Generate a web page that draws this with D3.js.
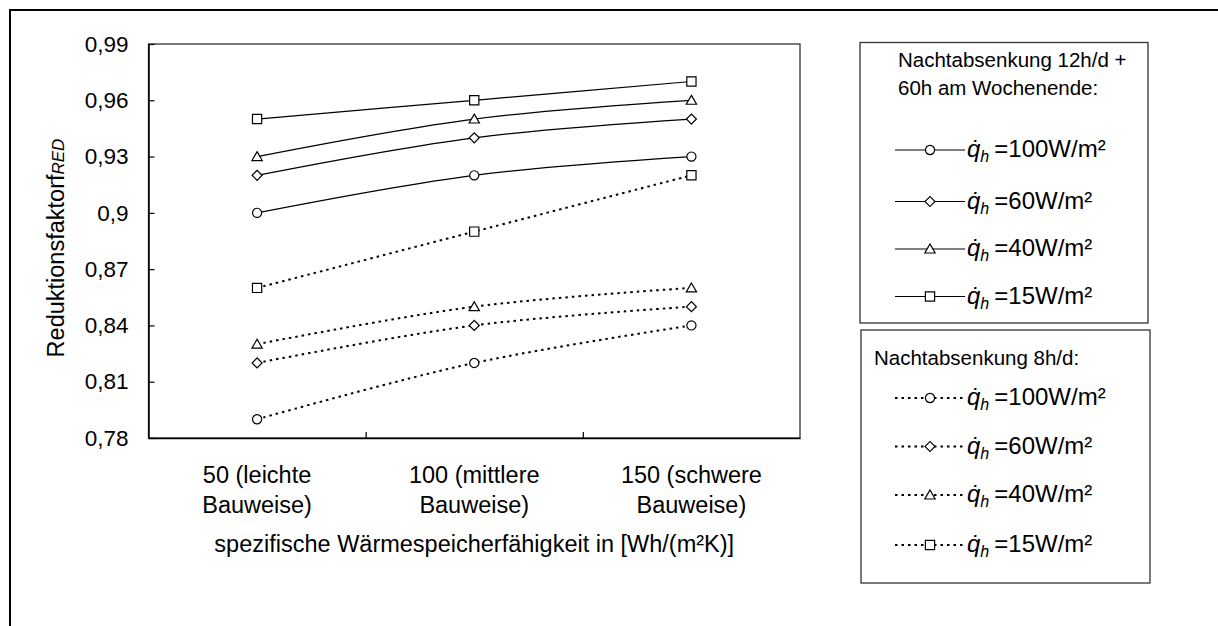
<!DOCTYPE html>
<html><head><meta charset="utf-8">
<script src="https://cdn.jsdelivr.net/npm/d3@7"></script>
<style>
html,body{margin:0;padding:0;background:#fff;}
text{font-family:"Liberation Sans",Arial,sans-serif;fill:#000;}
</style></head>
<body><svg id="c" width="1218" height="626"></svg>
<script>
// ---- data ----
const categories = [["50 (leichte","Bauweise)"],["100 (mittlere","Bauweise)"],["150 (schwere","Bauweise)"]];
const yTicks = [0.78,0.81,0.84,0.87,0.90,0.93,0.96,0.99];
const yTickLabels = ["0,78","0,81","0,84","0,87","0,9","0,93","0,96","0,99"];
const seriesLabels = ["100W/m²","60W/m²","40W/m²","15W/m²"];
const seriesMarkers = ["circle","diamond","triangle","square"];
const week_100 = [0.90,0.92,0.93];
const week_60  = [0.92,0.94,0.95];
const week_40  = [0.93,0.95,0.96];
const week_15  = [0.95,0.96,0.97];
const night_100 = [0.79,0.82,0.84];
const night_60  = [0.82,0.84,0.85];
const night_40  = [0.83,0.85,0.86];
const night_15  = [0.86,0.89,0.92];
const legendTitle1 = ["Nachtabsenkung 12h/d +","60h am Wochenende:"];
const legendTitle2 = "Nachtabsenkung 8h/d:";
const xTitle = "spezifische Wärmespeicherfähigkeit in [Wh/(m²K)]";

const groups = [
  {dash:null, series:[week_100,week_60,week_40,week_15]},
  {dash:"2.5,4", series:[night_100,night_60,night_40,night_15]}
];

const svg = d3.select("#c");
const L=148.5, R=800, T=44, B=438;
const x = d3.scaleBand().domain(d3.range(categories.length)).range([L,R]).padding(0);
const y = d3.scaleLinear().domain([0.78,0.99]).range([B,T]);

// outer frame
svg.append("path").attr("d",`M10,626 V10 H1218`).attr("fill","none").attr("stroke","#000").attr("stroke-width",2);

// plot box
svg.append("rect").attr("x",L).attr("y",T).attr("width",R-L).attr("height",B-T)
  .attr("fill","none").attr("stroke","#333").attr("stroke-width",1.3);

// y axis
const yAxis = d3.axisLeft(y).tickValues(yTicks).tickFormat((d,i)=>yTickLabels[i])
  .tickSizeInner(-6).tickSizeOuter(0).tickPadding(20);
const gy = svg.append("g").attr("transform",`translate(${L},0)`).call(yAxis);
gy.select(".domain").attr("stroke","#000").attr("stroke-width",1.5);
gy.selectAll(".tick line").attr("stroke","#000").attr("stroke-width",1.2);
gy.selectAll(".tick text").attr("font-size",22.5).attr("font-family","Liberation Sans, Arial, sans-serif").attr("fill","#000");

// x axis (ticks at category boundaries)
const xb = d3.scaleLinear().domain([0,categories.length]).range([L,R]);
const xAxis = d3.axisBottom(xb).tickValues(d3.range(1,categories.length)).tickFormat("")
  .tickSizeInner(-6).tickSizeOuter(0);
const gx = svg.append("g").attr("transform",`translate(0,${B})`).call(xAxis);
gx.select(".domain").attr("stroke","#000").attr("stroke-width",1.5);
gx.selectAll(".tick line").attr("stroke","#000").attr("stroke-width",1.2);

// category labels
categories.forEach((c,i)=>{
  const cx = x(i)+x.bandwidth()/2;
  const t = svg.append("text").attr("x",cx).attr("y",483).attr("text-anchor","middle").attr("font-size",23.5);
  t.append("tspan").attr("x",cx).text(c[0]);
  t.append("tspan").attr("x",cx).attr("dy",30).text(c[1]);
});

// x title
svg.append("text").attr("x",(L+R)/2).attr("y",552).attr("text-anchor","middle").attr("font-size",23.5).text(xTitle);

// y title
const yt = svg.append("text").attr("transform","translate(64,248) rotate(-90)").attr("text-anchor","middle").attr("font-size",23.5);
yt.append("tspan").text("Reduktionsfaktorf");
yt.append("tspan").attr("font-style","italic").attr("font-size",17).text("RED");

// markers
function marker(sel, type){
  let p;
  if(type==="circle") p = d3.symbol(d3.symbolCircle, 66)();
  else if(type==="square") p = d3.symbol(d3.symbolSquare, 85)();
  else if(type==="triangle") p = d3.symbol(d3.symbolTriangle, 46)();
  else p = d3.symbol(d3.symbolSquare, 50)();
  const m = sel.append("path").attr("d",p).attr("fill","#fff").attr("stroke","#000").attr("stroke-width",1.2);
  if(type==="diamond") m.attr("transform","rotate(45)");
  if(type==="triangle") m.attr("transform","translate(0,1)");
  return m;
}

const line = d3.line().x((d,i)=>x(i)+x.bandwidth()/2).y(d=>y(d)).curve(d3.curveCatmullRom.alpha(0.5));
groups.forEach(g=>{
  g.series.forEach((s,si)=>{
    svg.append("path").datum(s).attr("d",line).attr("fill","none").attr("stroke","#000")
      .attr("stroke-width",g.dash?2:1.2).attr("stroke-dasharray",g.dash);
    s.forEach((v,i)=>{
      const gm = svg.append("g").attr("transform",`translate(${x(i)+x.bandwidth()/2},${y(v)})`);
      marker(gm, seriesMarkers[si]);
    });
  });
});

// legends
function legendItem(yc, dash, si){
  svg.append("line").attr("x1",895).attr("x2",965).attr("y1",yc).attr("y2",yc)
    .attr("stroke","#000").attr("stroke-width",dash?1.8:1.2).attr("stroke-dasharray",dash);
  const gm = svg.append("g").attr("transform",`translate(930,${yc})`);
  marker(gm, seriesMarkers[si]);
  const t = svg.append("text").attr("x",967).attr("y",yc+7).attr("font-size",24);
  t.append("tspan").attr("font-style","italic").text("q\u0307");
  t.append("tspan").attr("font-style","italic").attr("font-size",16).attr("dy",5).text("h");
  t.append("tspan").attr("dy",-5).attr("dx",5).text("=" + seriesLabels[si]);
}
svg.append("rect").attr("x",860).attr("y",42.5).attr("width",288).attr("height",280.5)
  .attr("fill","#fff").attr("stroke","#333").attr("stroke-width",1.3);
const lt1 = svg.append("text").attr("x",898).attr("y",67).attr("font-size",20.5);
lt1.append("tspan").attr("x",898).text(legendTitle1[0]);
lt1.append("tspan").attr("x",898).attr("dy",28).text(legendTitle1[1]);
[150,201.5,249,296.5].forEach((yc,si)=>legendItem(yc,null,si));

svg.append("rect").attr("x",861).attr("y",330).attr("width",289).attr("height",253)
  .attr("fill","#fff").attr("stroke","#333").attr("stroke-width",1.3);
svg.append("text").attr("x",874).attr("y",365).attr("font-size",20.5).text(legendTitle2);
[398,446.5,495,545].forEach((yc,si)=>legendItem(yc,"2.5,4",si));
</script></body></html>
